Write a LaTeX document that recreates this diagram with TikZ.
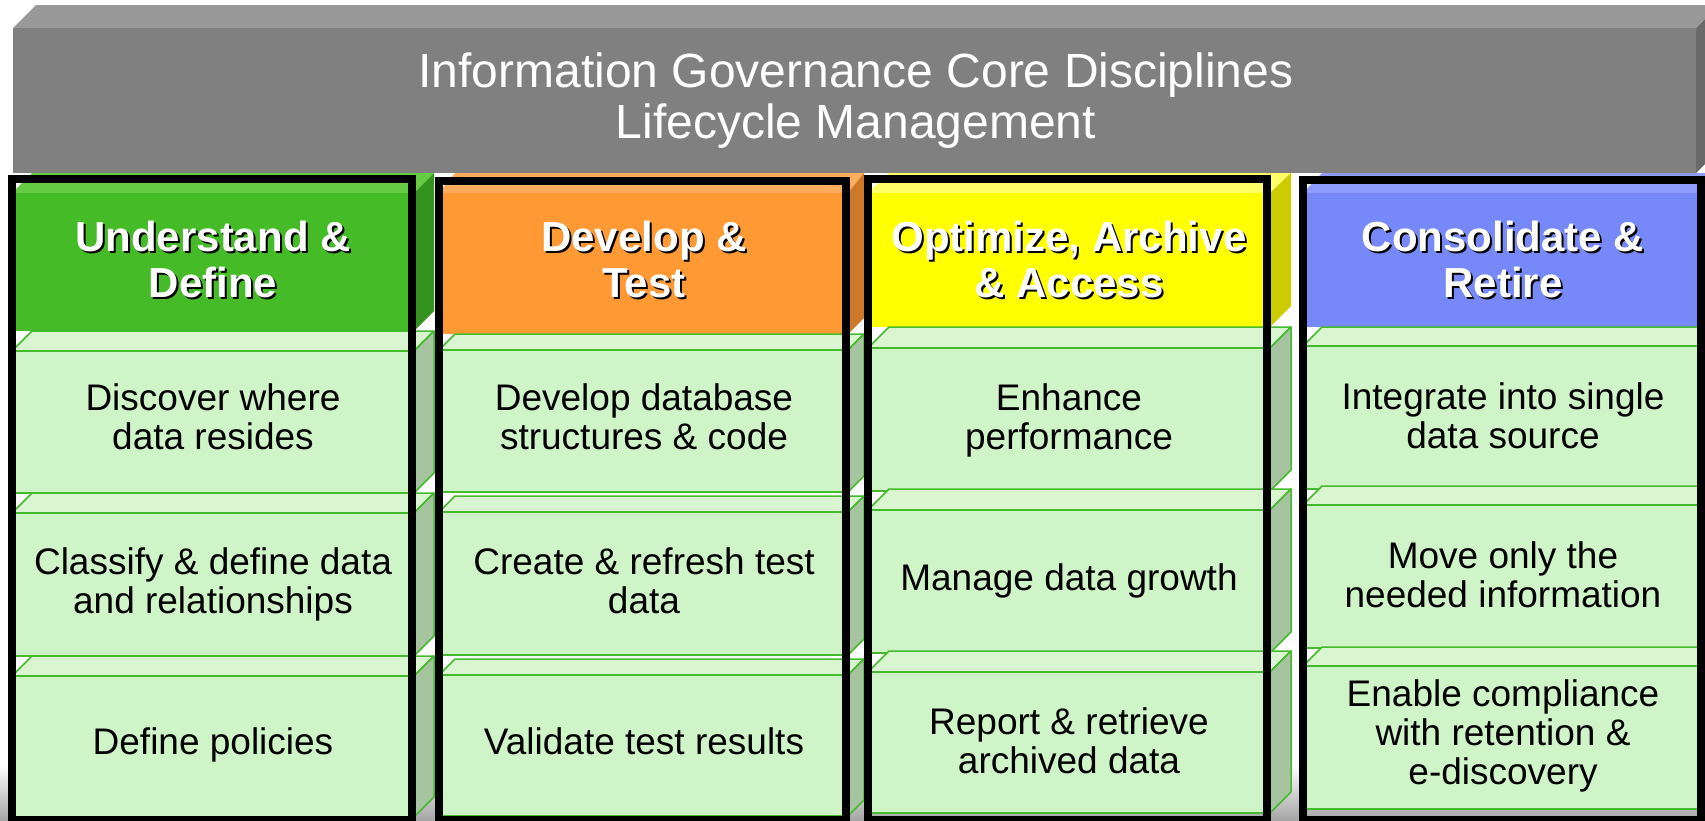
\documentclass[tikz,border=0pt]{standalone}
\usepackage{fontspec}
\setmainfont{Liberation Sans}
\usepackage{xcolor}
\definecolor{bannerT}{HTML}{999999}
\definecolor{bannerF}{HTML}{808080}
\definecolor{bannerS}{HTML}{6A6A6A}
\definecolor{hdgreenF}{HTML}{44BB27}
\definecolor{hdgreenS}{HTML}{36921F}
\definecolor{hdgreenT}{HTML}{66CC44}
\definecolor{hdorangeF}{HTML}{FF9933}
\definecolor{hdorangeS}{HTML}{CC7A29}
\definecolor{hdorangeT}{HTML}{FFAD5C}
\definecolor{hdyellowF}{HTML}{FFFF00}
\definecolor{hdyellowS}{HTML}{CCCC00}
\definecolor{hdyellowT}{HTML}{FFFF66}
\definecolor{hdblueF}{HTML}{7788F9}
\definecolor{hdblueS}{HTML}{5F6CC6}
\definecolor{hdblueT}{HTML}{8E9BFF}
\definecolor{boxF}{HTML}{CFF4C7}
\definecolor{boxT}{HTML}{D9F6D1}
\definecolor{boxS}{HTML}{A6C4A0}
\definecolor{boxline}{HTML}{44BB2C}

\begin{document}
\begin{tikzpicture}[x=1pt,y=-1pt,
  boxface/.style={draw=boxline,line width=1.5pt,line join=round},
  frame/.style={draw=black,line width=8pt},
  titletxt/.style={text=white,align=center,inner sep=0pt,font=\fontsize{48}{51}\selectfont},
  headtxt/.style={text=white,align=center,inner sep=0pt,font=\fontsize{42}{46}\selectfont\bfseries},
  headshadow/.style={headtxt,text=black},
  itemtxt/.style={text=black,align=center,inner sep=0pt,font=\fontsize{37}{39}\selectfont}]
  \clip (0,0) rectangle (1705,820);
  \fill[white] (0,0) rectangle (1705,820);
  \shade[top color=white,bottom color=gray!70] (0,765) rectangle (1705,820);
  % banner
  \fill[bannerT] (13,28) -- (36,5) -- (1719,5) -- (1696,28) -- cycle;
  \fill[bannerF] (13,28) rectangle (1696,173);
  \fill[bannerS] (1696,28) -- (1719,5) -- (1719,150) -- (1696,173) -- cycle;
  \node[titletxt] (title) at (856,101) {Information Governance Core Disciplines\\Lifecycle Management};
  % columns
  \foreach \xa/\xb/\d/\hc/\ta/\ba/\tb/\bb/\tc/\bc in {
      12/414/20/green/351/493/513/656/676/817,
      439/848/16/orange/350/492/512/655/675/816,
      868/1270/21/yellow/348/491/510/653/672/813,
      1303/1703/19/blue/346/489/505/648/666/809}{
    \fill[hd\hc T] (\xa,193) -- ({\xa+\d},173) -- ({\xb+\d},173) -- (\xb,193) -- cycle;
    \fill[hd\hc F] (\xa,193) rectangle (\xb,{\ta-\d});
    \fill[hd\hc S] (\xb,193) -- ({\xb+\d},173) -- ({\xb+\d},{\ta-2*\d}) -- (\xb,{\ta-\d}) -- cycle;
    \foreach \t/\b in {\ta/\ba,\tb/\bb,\tc/\bc}{
      \filldraw[boxface,fill=boxT] (\xa,\t) -- ({\xa+\d},{\t-\d}) -- ({\xb+\d},{\t-\d}) -- (\xb,\t) -- cycle;
      \filldraw[boxface,fill=boxF] (\xa,\t) rectangle (\xb,\b);
      \filldraw[boxface,fill=boxS] (\xb,\t) -- ({\xb+\d},{\t-\d}) -- ({\xb+\d},{\b-\d}) -- (\xb,\b) -- cycle;
    }
  }
  \draw[frame] (12,179) rectangle (412,820);
  \draw[frame] (439,181) rectangle (846,820);
  \draw[frame] (868,179) rectangle (1267,820);
  \draw[frame] (1303,180) rectangle (1701,820);
  % headers
  \node[headshadow] (ud-s) at (215,261) {Understand \&\\Define};
  \node[headtxt] (ud) at (213,259) {Understand \&\\Define};
  \node[headshadow] (dt-s) at (646,261) {Develop \&\\Test};
  \node[headtxt] (dt) at (644,259) {Develop \&\\Test};
  \node[headshadow] (oa-s) at (1071,261) {Optimize, Archive\\\& Access};
  \node[headtxt] (oa) at (1069,259) {Optimize, Archive\\\& Access};
  \node[headshadow] (cr-s) at (1505,261) {Consolidate \&\\Retire};
  \node[headtxt] (cr) at (1503,259) {Consolidate \&\\Retire};
  % items
  \node[itemtxt] (ud1) at (213,417) {Discover where\\data resides};
  \node[itemtxt] (ud2) at (213,584) {Classify \& define data\\and relationships};
  \node[itemtxt] (ud3) at (213,745) {Define policies};
  \node[itemtxt] (dt1) at (644,417) {Develop database\\structures \& code};
  \node[itemtxt] (dt2) at (644,581) {Create \& refresh test\\data};
  \node[itemtxt] (dt3) at (644,741) {Validate test results};
  \node[itemtxt] (oa1) at (1069,420) {Enhance\\performance};
  \node[itemtxt] (oa2) at (1069,581) {Manage data growth};
  \node[itemtxt] (oa3) at (1069,741) {Report \& retrieve\\archived data};
  \node[itemtxt] (cr1) at (1503,416) {Integrate into single\\data source};
  \node[itemtxt] (cr2) at (1503,575) {Move only the\\needed information};
  \node[itemtxt] (cr3) at (1503,736) {Enable compliance\\with retention \&\\e-discovery};
\end{tikzpicture}
\end{document}
